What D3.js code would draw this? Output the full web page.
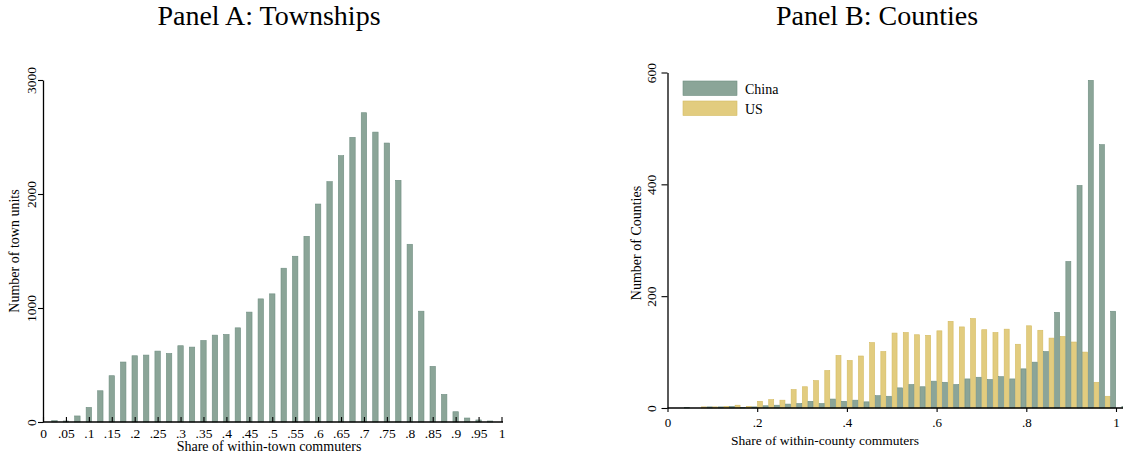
<!DOCTYPE html>
<html>
<head>
<meta charset="utf-8">
<script src="https://cdn.jsdelivr.net/npm/d3@7"></script>
<style>
  html, body { margin: 0; padding: 0; background: #fff; }
  svg { display: block; font-family: "Liberation Serif", "DejaVu Serif", serif; }
</style>
</head>
<body>
<svg id="chart" width="1123" height="457"></svg>
<script>
// Panel A: townships, bins of .025
var townShare = [0.025, 0.05, 0.075, 0.1, 0.125, 0.15, 0.175, 0.2, 0.225, 0.25, 0.275, 0.3, 0.325,
  0.35, 0.375, 0.4, 0.425, 0.45, 0.475, 0.5, 0.525, 0.55, 0.575, 0.6, 0.625, 0.65, 0.675, 0.7,
  0.725, 0.75, 0.775, 0.8, 0.825, 0.85, 0.875, 0.9, 0.925, 0.95, 0.975];
var townCount = [12, 9, 53, 128, 274, 406, 526, 581, 587, 622, 601, 669, 657,
  715, 762, 768, 826, 964, 1080, 1124, 1349, 1454, 1629, 1912, 2108, 2336, 2497, 2713,
  2543, 2447, 2120, 1559, 972, 488, 242, 90, 35, 18, 9];
var townXTicks = [0, 0.05, 0.1, 0.15, 0.2, 0.25, 0.3, 0.35, 0.4, 0.45, 0.5, 0.55, 0.6, 0.65,
  0.7, 0.75, 0.8, 0.85, 0.9, 0.95, 1];
var townYTicks = [0, 1000, 2000, 3000];

// Panel B: counties, bin start values (US left half, China right half)
var countyBin = [0, 0.025, 0.05, 0.075, 0.1, 0.125, 0.15, 0.175, 0.2, 0.225, 0.25, 0.275, 0.3,
  0.325, 0.35, 0.375, 0.4, 0.425, 0.45, 0.475, 0.5, 0.525, 0.55, 0.575, 0.6, 0.625, 0.65, 0.675,
  0.7, 0.725, 0.75, 0.775, 0.8, 0.825, 0.85, 0.875, 0.9, 0.925, 0.95, 0.975, 1];
var chinaCount = [0, 1, 0, 2, 2, 3, 1, 2, 4, 5, 7, 8, 12,
  8, 16, 12, 14, 11, 22, 21, 36, 42, 38, 48, 46, 42, 52, 55,
  51, 56, 52, 70, 82, 101, 171, 262, 398, 586, 471, 173, 3];
var usCount = [0, 0, 0, 2, 2, 3, 5, 3, 12, 15, 14, 33, 38,
  49, 67, 94, 85, 93, 117, 101, 134, 135, 131, 130, 138, 155, 145, 160,
  140, 135, 141, 114, 147, 139, 125, 128, 118, 100, 46, 21, 0];
var countyXTicks = [0, 0.2, 0.4, 0.6, 0.8, 1];
var countyYTicks = [0, 200, 400, 600];
var legendLabels = ['China', 'US'];

var green = '#8ba598', greenEdge = '#6f8e81';
var yellow = '#e2cc7f', yellowEdge = '#d4bb62';

var svg = d3.select('#chart');

function fmtShare(d) {
  if (d === 0) return '0';
  if (d === 1) return '1';
  return String(d).replace(/^0/, '');
}

// ---------- Panel A ----------
var xA = d3.scaleLinear().domain([0, 1]).range([43, 501.5]);
var yA = d3.scaleLinear().domain([0, 3000]).range([422, 80]);
var barW = xA(0.0118) - xA(0);

var panelA = svg.append('g').attr('id', 'panelA');

panelA.append('g')
  .selectAll('rect')
  .data(townShare)
  .join('rect')
  .attr('x', (d) => xA(d) - barW / 2)
  .attr('width', barW)
  .attr('y', (d, i) => yA(townCount[i]))
  .attr('height', (d, i) => yA(0) - yA(townCount[i]))
  .attr('fill', green)
  .attr('stroke', greenEdge)
  .attr('stroke-width', 0.6);

var axA = panelA.append('g')
  .attr('transform', 'translate(0,' + yA(0) + ')')
  .call(d3.axisBottom(xA).tickValues(townXTicks).tickFormat(fmtShare)
    .tickSizeInner(-5).tickSizeOuter(0).tickPadding(6));
axA.select('.domain').attr('d', 'M' + xA(0) + ',0H503');

var ayA = panelA.append('g')
  .attr('transform', 'translate(' + xA(0) + ',0)')
  .call(d3.axisLeft(yA).tickValues(townYTicks).tickFormat(d3.format('d'))
    .tickSizeInner(5).tickSizeOuter(0));
ayA.selectAll('text')
  .attr('transform', 'rotate(-90)')
  .attr('x', 0).attr('y', -7).attr('dy', 0)
  .style('text-anchor', 'middle');

panelA.append('text')
  .attr('x', 269).attr('y', 25)
  .attr('text-anchor', 'middle')
  .attr('font-size', '28px')
  .text('Panel A: Townships');

panelA.append('text')
  .attr('x', 269).attr('y', 451)
  .attr('text-anchor', 'middle')
  .attr('font-size', '14px')
  .text('Share of within-town commuters');

panelA.append('text')
  .attr('transform', 'translate(19,251) rotate(-90)')
  .attr('text-anchor', 'middle')
  .attr('font-size', '14px')
  .text('Number of town units');

// ---------- Panel B ----------
var xB = d3.scaleLinear().domain([0, 1]).range([667.5, 1116]);
var yB = d3.scaleLinear().domain([0, 600]).range([408, 72.5]);
var half = 0.0125;

var panelB = svg.append('g').attr('id', 'panelB');

panelB.append('g')
  .selectAll('rect')
  .data(countyBin)
  .join('rect')
  .attr('x', (d) => xB(d) + 0.3)
  .attr('width', xB(half) - xB(0) - 0.6)
  .attr('y', (d, i) => yB(usCount[i]))
  .attr('height', (d, i) => yB(0) - yB(usCount[i]))
  .attr('fill', yellow)
  .attr('stroke', yellowEdge)
  .attr('stroke-width', 0.6);

panelB.append('g')
  .selectAll('rect')
  .data(countyBin)
  .join('rect')
  .attr('x', (d) => xB(d + half) + 0.3)
  .attr('width', xB(half) - xB(0) - 0.6)
  .attr('y', (d, i) => yB(chinaCount[i]))
  .attr('height', (d, i) => yB(0) - yB(chinaCount[i]))
  .attr('fill', green)
  .attr('stroke', greenEdge)
  .attr('stroke-width', 0.6);

var axB = panelB.append('g')
  .attr('class', 'axis-b')
  .attr('transform', 'translate(0,' + yB(0) + ')')
  .call(d3.axisBottom(xB).tickValues(countyXTicks).tickFormat(fmtShare)
    .tickSizeInner(4).tickSizeOuter(0).tickPadding(6));
axB.select('.domain').attr('d', 'M' + xB(0) + ',0H1123');

var ayB = panelB.append('g')
  .attr('transform', 'translate(' + xB(0) + ',0)')
  .call(d3.axisLeft(yB).tickValues(countyYTicks).tickFormat(d3.format('d'))
    .tickSizeInner(6).tickSizeOuter(0));
ayB.selectAll('text')
  .attr('transform', 'rotate(-90)')
  .attr('x', 0).attr('y', -12).attr('dy', 0)
  .style('text-anchor', 'middle');

panelB.append('text')
  .attr('x', 877).attr('y', 25)
  .attr('text-anchor', 'middle')
  .attr('font-size', '28px')
  .text('Panel B: Counties');

panelB.append('text')
  .attr('x', 825).attr('y', 445)
  .attr('text-anchor', 'middle')
  .attr('font-size', '13.5px')
  .text('Share of within-county commuters');

panelB.append('text')
  .attr('transform', 'translate(641,243) rotate(-90)')
  .attr('text-anchor', 'middle')
  .attr('font-size', '14px')
  .text('Number of Counties');

// legend
var legend = panelB.append('g').attr('transform', 'translate(683,81)');
legend.selectAll('rect')
  .data(legendLabels)
  .join('rect')
  .attr('x', 0)
  .attr('y', (d, i) => i * 20)
  .attr('width', 54)
  .attr('height', 14.5)
  .attr('fill', (d, i) => (i === 0 ? green : yellow))
  .attr('stroke', (d, i) => (i === 0 ? greenEdge : yellowEdge))
  .attr('stroke-width', 0.6);
legend.selectAll('text')
  .data(legendLabels)
  .join('text')
  .attr('x', 62)
  .attr('y', (d, i) => i * 20 + 13)
  .attr('font-size', '14px')
  .text((d) => d);

// axis styling
svg.selectAll('.domain').attr('stroke', '#000').attr('stroke-width', 1.3);
svg.selectAll('.tick line').attr('stroke', '#000').attr('stroke-width', 1.1);
svg.selectAll('.tick text')
  .attr('fill', '#000')
  .style('font-family', '"Liberation Serif", serif')
  .style('font-size', '13.5px');
svg.selectAll('.axis-b .tick text').style('font-size', '13px');
</script>
</body>
</html>
